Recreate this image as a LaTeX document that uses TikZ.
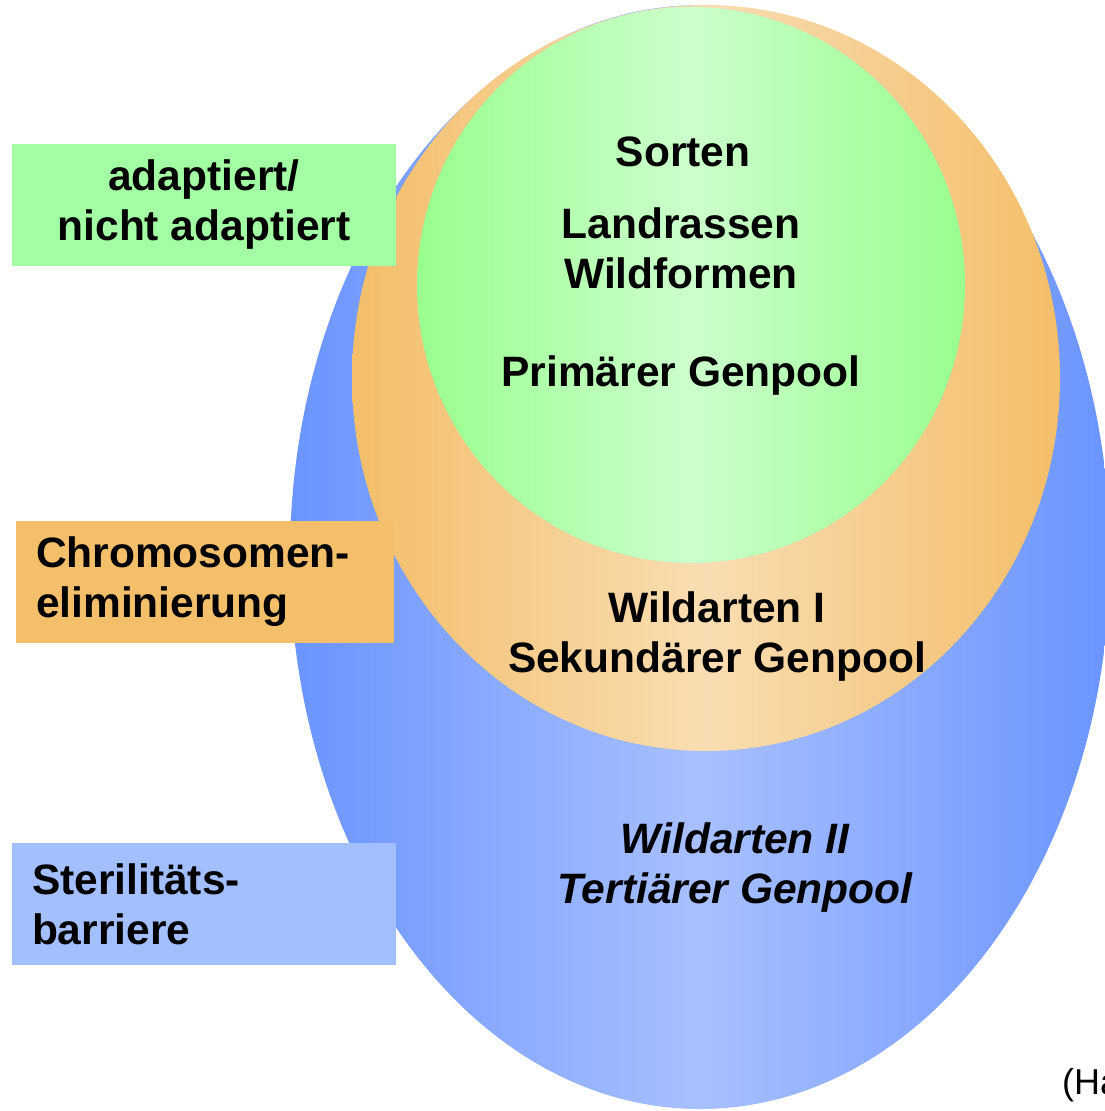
\documentclass[tikz,border=0pt]{standalone}
\usepackage{fontspec}
\setmainfont{Liberation Sans}
\usepackage{tikz}
\usetikzlibrary{positioning}

\definecolor{blueedge}{HTML}{6A94FF}
\definecolor{bluemid}{HTML}{A8C0FF}
\definecolor{orangeedge}{HTML}{F4BE6A}
\definecolor{orangemid}{HTML}{F9DDB2}
\definecolor{greenedge}{HTML}{98FF8E}
\definecolor{greenmid}{HTML}{CCFFCC}
\definecolor{greenbox}{HTML}{A3FFA3}
\definecolor{orangebox}{HTML}{F4BF6A}
\definecolor{bluebox}{HTML}{A3BFFF}

\tikzset{
    big/.style={font=\bfseries\fontsize{42.5}{50}\selectfont, align=center},
    box/.style={rectangle, minimum width=384pt, minimum height=122pt,
        font=\bfseries\fontsize{42.5}{50}\selectfont, inner xsep=20pt}
}

\begin{document}
\begin{tikzpicture}[x=1pt, y=-1pt]

    \useasboundingbox (0,0) rectangle (1104,1111);

    \shade[left color=blueedge, right color=blueedge, middle color=bluemid]
        (700,557) ellipse [x radius=410pt, y radius=552pt];
    \shade[left color=orangeedge, right color=orangeedge, middle color=orangemid]
        (706,378) ellipse [x radius=354pt, y radius=373pt];
    \shade[left color=greenedge, right color=greenedge, middle color=greenmid]
        (691,285) ellipse [x radius=274pt, y radius=278pt];

    \node[big] (sorten) at (683,152) {Sorten};
    \node[big] (land)   at (681,248) {Landrassen\\Wildformen};
    \node[big] (prim)   at (681,376) {Primärer Genpool};
    \node[big] (sek)    at (717,637) {Wildarten I\\Sekundärer Genpool};
    \node[big, font=\bfseries\itshape\fontsize{42.5}{50}\selectfont]
                        (tert)   at (735,867) {Wildarten II\\Tertiärer Genpool};

    \node[box, fill=greenbox, align=center] (adapt) at (204,205)
        {\raisebox{-3pt}{adaptiert/}\\\raisebox{-3pt}{nicht adaptiert}};
    \node[box, fill=orangebox, minimum width=378pt, text width=338pt, align=left]
        (chrom) at (205,582) {\raisebox{-3pt}{Chromosomen-}\\\raisebox{-3pt}{eliminierung}};
    \node[box, fill=bluebox, text width=344pt, align=left]
        (steril) at (204,904) {\raisebox{-3pt}{Sterilitäts-}\\\raisebox{-3pt}{barriere}};

    \node[anchor=west, inner sep=0pt, font=\fontsize{36}{40}\selectfont]
        (quelle) at (1062,1085) {(Ha};

\end{tikzpicture}
\end{document}
